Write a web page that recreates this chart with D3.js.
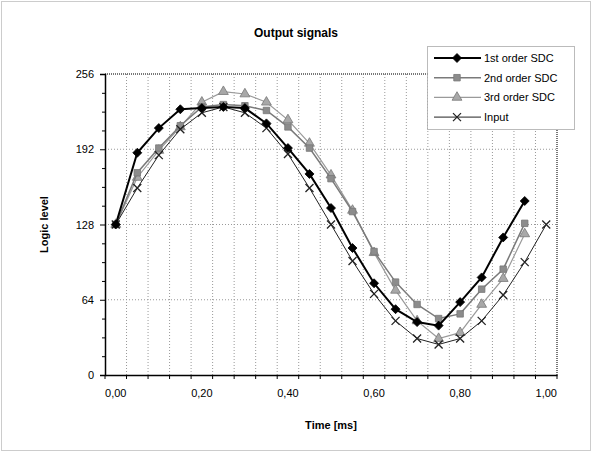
<!DOCTYPE html>
<html>
<head>
<meta charset="utf-8">
<title>Output signals</title>
<script src="https://cdn.jsdelivr.net/npm/d3@7"></script>
<style>
body { margin: 0; background: #fff; }
text { font-family: "Liberation Sans", Arial, sans-serif; fill: #000; }
</style>
</head>
<body>
<script>

// time categories (ms)
var times = ["0,00","0,05","0,10","0,15","0,20","0,25","0,30","0,35","0,40","0,45",
             "0,50","0,55","0,60","0,65","0,70","0,75","0,80","0,85","0,90","0,95","1,00"];
var tickLabels = ["0,00","0,20","0,40","0,60","0,80","1,00"];
var yTicks = [0, 64, 128, 192, 256];

// series values (logic level)
var sdc1  = [128,189,210,226,227,228,227,214,193,171,142,108,78,56,45,42,62,83,117,148];
var sdc2  = [128,172,193,212,228,230,229,225,211,193,167,139,105,79,60,48,52,73,90,129];
var sdc3  = [128,168,191,211,232,241,239,232,217,197,170,140,104,72,46,31,36,60,82,120];
var input = [128,159,187,209,223,228,223,210,188,159,128,97,69,46,31,26,31,46,68,96,128];

var W = 593, H = 453;
// plot area (note: "top" is reserved by window, so prefixed names)
var pLeft = 105, pRight = 557, pTop = 74, pBottom = 375;

var svg = d3.select("body").append("svg")
    .attr("width", W)
    .attr("height", H);

// chart border
svg.append("rect")
    .attr("x", 1.5).attr("y", 1.5)
    .attr("width", W - 4).attr("height", H - 4)
    .attr("fill", "#fff")
    .attr("stroke", "#999")
    .attr("stroke-dasharray", "1,1");

var x = d3.scaleBand().domain(times).range([pLeft, pRight]);
var y = d3.scaleLinear().domain([0, 256]).range([pBottom, pTop]);
var cx = function(i){ return x(times[i]) + x.bandwidth() / 2; };

// grid
var grid = svg.append("g");
grid.selectAll("line.v")
    .data(times.slice(1))
    .enter().append("line")
    .attr("x1", function(d){ return x(d); })
    .attr("x2", function(d){ return x(d); })
    .attr("y1", pTop).attr("y2", pBottom)
    .attr("stroke", "#999")
    .attr("stroke-dasharray", "1,2");
grid.selectAll("line.h")
    .data(yTicks.slice(1, -1))
    .enter().append("line")
    .attr("x1", pLeft).attr("x2", pRight)
    .attr("y1", function(d){ return y(d); })
    .attr("y2", function(d){ return y(d); })
    .attr("stroke", "#999")
    .attr("stroke-dasharray", "1,2");

// top & right border of plot area (hatched look)
svg.append("path")
    .attr("d", "M" + pLeft + "," + pTop + "H" + pRight + "V" + pBottom)
    .attr("fill", "none")
    .attr("stroke", "#777")
    .attr("stroke-width", 2)
    .attr("stroke-dasharray", "1,1");

// y axis
svg.append("g")
    .attr("transform", "translate(" + pLeft + ",0)")
    .call(d3.axisLeft(y).tickValues(yTicks).tickSize(5).tickPadding(6));
svg.append("g")
    .attr("transform", "translate(" + pLeft + ",0)")
    .call(d3.axisLeft(y).tickValues(d3.range(16, 256, 16).filter(function(v){ return v % 64; }))
          .tickSize(3).tickFormat(""))
    .select(".domain").remove();

// x axis
var xAxis = svg.append("g")
    .attr("transform", "translate(0," + pBottom + ")")
    .call(d3.axisBottom(x).tickValues(tickLabels).tickSize(0).tickPadding(14));
xAxis.selectAll("line").remove();
svg.append("g").selectAll("line")
    .data(times.concat(["end"]))
    .enter().append("line")
    .attr("x1", function(d, i){ return pLeft + i * x.bandwidth(); })
    .attr("x2", function(d, i){ return pLeft + i * x.bandwidth(); })
    .attr("y1", pBottom).attr("y2", pBottom + 4)
    .attr("stroke", "#000");

svg.selectAll(".domain").attr("stroke", "#000").attr("stroke-width", 1.5);
svg.selectAll(".tick line").attr("stroke", "#000");
svg.selectAll(".tick text")
    .style("font-size", "11px")
    .style("font-family", "Liberation Sans, Arial, sans-serif")
    .attr("fill", "#000");

// series styles
var series = [
  { name: "3rd order SDC", values: sdc3,  color: "#9a9a9a", width: 1.2, marker: "triangle", fill: "#a8a8a8" },
  { name: "2nd order SDC", values: sdc2,  color: "#7a7a7a", width: 1.5, marker: "square",   fill: "#8c8c8c" },
  { name: "Input",         values: input, color: "#222",    width: 1,   marker: "x",        fill: "none" },
  { name: "1st order SDC", values: sdc1,  color: "#000",    width: 2,   marker: "diamond",  fill: "#000" }
];

var line = d3.line()
    .x(function(d, i){ return cx(i); })
    .y(function(d){ return y(d); });

function drawMarker(g, type, fill, color) {
  if (type === "x") {
    g.append("path")
      .attr("d", "M-4,-4L4,4M-4,4L4,-4")
      .attr("stroke", color).attr("stroke-width", 1.3).attr("fill", "none");
  } else if (type === "diamond") {
    // square-ish diamond like the spreadsheet marker
    g.append("path")
      .attr("d", "M0,-4.5L4.5,0L0,4.5L-4.5,0Z")
      .attr("fill", fill).attr("stroke", "#000").attr("stroke-width", 0.8);
  } else {
    var sym = { square: d3.symbolSquare, triangle: d3.symbolTriangle }[type];
    var size = { square: 42, triangle: 42 }[type];
    g.append("path")
      .attr("d", d3.symbol().type(sym).size(size)())
      .attr("fill", fill)
      .attr("stroke", "#777")
      .attr("stroke-width", 0.8);
  }
}

series.forEach(function(s) {
  svg.append("path")
    .datum(s.values)
    .attr("d", line)
    .attr("fill", "none")
    .attr("stroke", s.color)
    .attr("stroke-width", s.width);
  svg.append("g").selectAll("g")
    .data(s.values)
    .enter().append("g")
    .attr("transform", function(d, i){ return "translate(" + cx(i) + "," + y(d) + ")"; })
    .each(function(){ drawMarker(d3.select(this), s.marker, s.fill, s.color); });
});

// title
svg.append("text")
    .attr("x", 296).attr("y", 37)
    .attr("text-anchor", "middle")
    .style("font-size", "12px").style("font-weight", "bold")
    .text("Output signals");

// axis titles
svg.append("text")
    .attr("x", (pLeft + pRight) / 2).attr("y", 429)
    .attr("text-anchor", "middle")
    .style("font-size", "11px").style("font-weight", "bold")
    .text("Time [ms]");
svg.append("text")
    .attr("transform", "translate(48," + ((pTop + pBottom) / 2) + ") rotate(-90)")
    .attr("text-anchor", "middle")
    .style("font-size", "11px").style("font-weight", "bold")
    .text("Logic level");

// legend
var legend = svg.append("g");
legend.append("rect")
    .attr("x", 427.5).attr("y", 46.5)
    .attr("width", 147).attr("height", 83)
    .attr("fill", "#fff")
    .attr("stroke", "#777")
    .attr("stroke-dasharray", "1,1");
var legOrder = [series[3], series[1], series[0], series[2]];
legOrder.forEach(function(s, i) {
  var ly = 58 + i * 19.7;
  var g = legend.append("g");
  g.append("line")
    .attr("x1", 434).attr("x2", 481)
    .attr("y1", ly).attr("y2", ly)
    .attr("stroke", s.color).attr("stroke-width", s.width);
  drawMarker(g.append("g").attr("transform", "translate(457," + ly + ")"), s.marker, s.fill, s.color);
  g.append("text")
    .attr("x", 484).attr("y", ly + 4)
    .style("font-size", "11px")
    .text(s.name);
});

</script>
</body>
</html>
